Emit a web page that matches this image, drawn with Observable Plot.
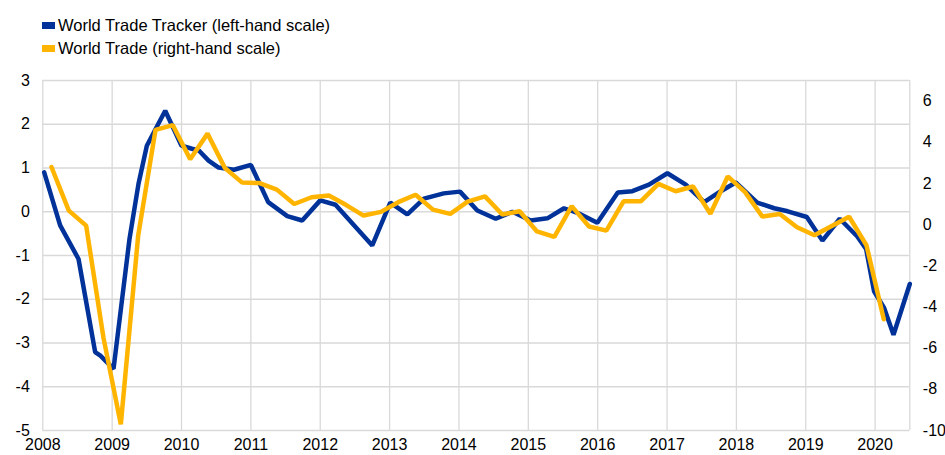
<!DOCTYPE html>
<html>
<head>
<meta charset="utf-8">
<script src="https://cdn.jsdelivr.net/npm/d3@7"></script>
<script src="https://cdn.jsdelivr.net/npm/@observablehq/plot@0.6"></script>
<style>
  html, body { margin: 0; padding: 0; background: #fff; }
  body { width: 945px; height: 455px; overflow: hidden; font-family: "Liberation Sans", Arial, sans-serif; }
  #legend { position: relative; height: 62px; font-size: 16.5px; color: #000; }
  .item { position: absolute; left: 42px; height: 18px; line-height: 18px; white-space: nowrap; }
  .sw { position: absolute; left: 0; top: 6px; width: 13px; height: 7px; }
  .lab { position: absolute; left: 16px; top: 0; }
</style>
</head>
<body>
<div id="legend"></div>
<div id="chart"></div>
<script>
// ---- data ----
const seriesNames = ["World Trade Tracker (left-hand scale)", "World Trade (right-hand scale)"];
const seriesColors = ["#003299", "#FFB400"];

// World Trade Tracker (left-hand scale): decimal-year positions and values
const trackerDates = [2008.02, 2008.25, 2008.515, 2008.755, 2008.83, 2009.02, 2009.25, 2009.38, 2009.5, 2009.765,
  2010.0, 2010.15, 2010.25, 2010.39, 2010.535, 2010.755, 2011.0, 2011.25, 2011.525, 2011.74,
  2012.0, 2012.22, 2012.75, 2013.01, 2013.255, 2013.495, 2013.78, 2014.015, 2014.265, 2014.53,
  2014.77, 2015.035, 2015.275, 2015.515, 2015.73, 2015.995, 2016.29, 2016.5, 2016.74, 2017.005,
  2017.27, 2017.535, 2017.775, 2017.99, 2018.3, 2018.545, 2018.74, 2019.015, 2019.24, 2019.49,
  2019.74, 2019.87, 2019.985, 2020.13, 2020.265, 2020.5];
const trackerValues = [0.90, -0.31, -1.08, -3.21, -3.29, -3.59, -0.62, 0.64, 1.51, 2.31,
  1.51, 1.44, 1.40, 1.17, 1.01, 0.96, 1.07, 0.22, -0.10, -0.20,
  0.26, 0.16, -0.77, 0.21, -0.06, 0.30, 0.42, 0.46, 0.03, -0.16,
  0.00, -0.20, -0.15, 0.08, -0.04, -0.25, 0.44, 0.47, 0.62, 0.88,
  0.62, 0.22, 0.47, 0.67, 0.21, 0.08, 0.01, -0.12, -0.66, -0.16,
  -0.56, -0.85, -1.82, -2.20, -2.81, -1.65];

// World Trade (right-hand scale): quarterly
const tradeQuarters = ["2008Q1","2008Q2","2008Q3","2008Q4","2009Q1","2009Q2","2009Q3","2009Q4",
  "2010Q1","2010Q2","2010Q3","2010Q4","2011Q1","2011Q2","2011Q3","2011Q4",
  "2012Q1","2012Q2","2012Q3","2012Q4","2013Q1","2013Q2","2013Q3","2013Q4",
  "2014Q1","2014Q2","2014Q3","2014Q4","2015Q1","2015Q2","2015Q3","2015Q4",
  "2016Q1","2016Q2","2016Q3","2016Q4","2017Q1","2017Q2","2017Q3","2017Q4",
  "2018Q1","2018Q2","2018Q3","2018Q4","2019Q1","2019Q2","2019Q3","2019Q4","2020Q1"];
const tradeValues = [2.8, 0.68, -0.05, -5.5, -9.7, -0.54, 4.6, 4.83,
  3.17, 4.42, 2.75, 2.04, 2.02, 1.7, 1.0, 1.33,
  1.41, 0.95, 0.44, 0.62, 1.09, 1.45, 0.73, 0.52,
  1.12, 1.37, 0.49, 0.65, -0.33, -0.6, 0.9, -0.09,
  -0.29, 1.14, 1.14, 1.98, 1.62, 1.85, 0.53, 2.34,
  1.58, 0.39, 0.52, -0.13, -0.52, -0.07, 0.38, -1.0, -4.6];

const yearTicks = [2008, 2009, 2010, 2011, 2012, 2013, 2014, 2015, 2016, 2017, 2018, 2019, 2020];
const leftTicks = [-5, -4, -3, -2, -1, 0, 1, 2, 3];
const rightTicks = [-10, -8, -6, -4, -2, 0, 2, 4, 6];
const leftDomain = [-5, 3];
const rightDomain = [-10, 7];
const xDomain = [2008, 2020.5];

// ---- build tables ----
const tracker = trackerDates.map((d, i) => ({date: d, value: trackerValues[i]}));
const trade = tradeQuarters.map((q, i) => {
  const yr = +q.slice(0, 4), qq = +q.slice(5);
  return {date: yr + (qq - 1) / 4 + 1 / 8, value: tradeValues[i]};
});

// map right-hand values onto the left-hand scale
const toLeft = r => leftDomain[0] + (r - rightDomain[0]) * (leftDomain[1] - leftDomain[0]) / (rightDomain[1] - rightDomain[0]);
const fromLeft = l => rightDomain[0] + (l - leftDomain[0]) * (rightDomain[1] - rightDomain[0]) / (leftDomain[1] - leftDomain[0]);

// ---- legend ----
const legend = document.getElementById("legend");
seriesNames.forEach((name, i) => {
  const it = document.createElement("div");
  it.className = "item";
  it.style.top = (16 + i * 23) + "px";
  it.innerHTML = `<span class="sw" style="background:${seriesColors[i]}"></span><span class="lab">${name}</span>`;
  legend.appendChild(it);
});

// ---- chart ----
const grid = "#d9d9d9";
const chart = Plot.plot({
  width: 945,
  height: 393,
  marginTop: 18,
  marginBottom: 25,
  marginLeft: 42.3,
  marginRight: 35.7,
  style: {fontSize: "16px", fontFamily: "'Liberation Sans', Arial, sans-serif", color: "#000", background: "#fff", overflow: "visible"},
  x: {domain: xDomain},
  y: {domain: leftDomain},
  marks: [
    Plot.gridY(leftTicks, {stroke: grid, strokeOpacity: 1, strokeWidth: 1.3}),
    Plot.gridX(yearTicks, {stroke: grid, strokeOpacity: 1, strokeWidth: 1.3}),
    Plot.ruleX([xDomain[1]], {stroke: grid, strokeWidth: 1.3}),
    Plot.axisY(leftTicks, {anchor: "left", tickSize: 0, tickPadding: 13, label: null, tickFormat: d => String(d)}),
    Plot.axisY(rightTicks.map(toLeft), {anchor: "right", tickSize: 0, tickPadding: 13, label: null, textAnchor: "start",
      tickFormat: d => String(Math.round(fromLeft(d)))}),
    Plot.axisX(yearTicks, {anchor: "bottom", tickSize: 0, tickPadding: 8, label: null, tickFormat: d => String(d)}),
    Plot.line(tracker, {x: "date", y: "value", stroke: seriesColors[0], strokeWidth: 4.5, strokeLinejoin: "miter"}),
    Plot.line(trade, {x: "date", y: d => toLeft(d.value), stroke: seriesColors[1], strokeWidth: 4.5, strokeLinejoin: "miter"})
  ]
});
document.getElementById("chart").appendChild(chart);
</script>
</body>
</html>
